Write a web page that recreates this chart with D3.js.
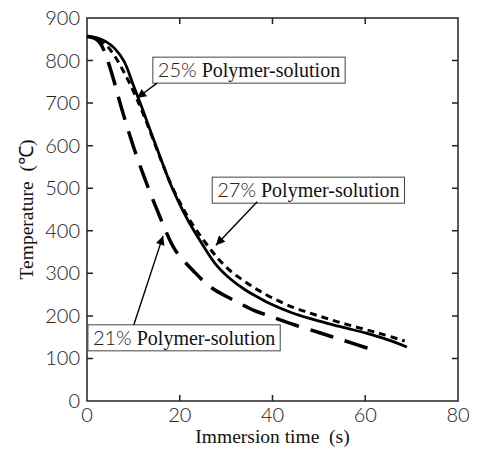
<!DOCTYPE html>
<html>
<head>
<meta charset="utf-8">
<script src="https://cdn.jsdelivr.net/npm/d3@7"></script>
<style>
  body { margin: 0; background: #fff; }
  .tick-label { font-family: "Lato", "Liberation Sans", Arial, sans-serif; font-weight: 300; font-size: 20px; fill: #222; }
  .title { font-family: "Liberation Serif", "Times New Roman", serif; font-size: 19.5px; fill: #111; }
</style>
</head>
<body>
<div id="chart"></div>
<script>
// Chart size
let width = 478;
let height = 452;
let margin = {top: 18, right: 20, bottom: 51, left: 87};

// Tick values
let x_ticks = [0, 20, 40, 60, 80];
let y_ticks = [0, 100, 200, 300, 400, 500, 600, 700, 800, 900];

// 25% Polymer-solution (solid)
let time_25 = [0, 2, 4, 6, 8, 10, 12, 14, 16, 18, 20, 22, 25, 28, 31, 34, 37, 40, 44, 48, 52, 56, 60, 64, 69];
let temp_25 = [857, 854, 845, 828, 798, 742, 685, 625, 567, 510, 462, 420, 366, 318, 286, 262, 243, 226, 208, 194, 182, 171, 160, 147, 127];

// 27% Polymer-solution (short dash)
let time_27 = [0, 2, 4, 6, 8, 10, 12, 14, 16, 18, 20, 22, 25, 28, 31, 34, 37, 40, 44, 48, 52, 56, 60, 64, 68.5];
let temp_27 = [857, 852, 838, 810, 772, 728, 678, 622, 565, 512, 467, 428, 380, 338, 305, 281, 260, 242, 222, 207, 193, 180, 168, 156, 141];

// 21% Polymer-solution (long dash)
let time_21 = [0, 2, 3, 4, 5, 6, 7, 8, 9, 10, 11, 12, 13, 14, 15, 16, 17, 18, 19, 20, 21.5, 23, 25, 27, 30, 33, 36, 40, 45, 50, 54, 58, 62.5];
let temp_21 = [857, 850, 838, 815, 782, 745, 705, 668, 632, 598, 566, 536, 507, 479, 452, 425, 399, 375, 355, 340, 322, 305, 283, 265, 246, 229, 213, 197, 178, 161, 147, 133, 117];

// Labels: box corner (t, T), arrow start and arrow tip in data units
let labels = [
  {pct: "25%", box: [14.2, 808], from: [15.1, 747], to: [10.8, 712]},
  {pct: "27%", box: [27.0, 526], from: [36.7, 468], to: [27.8, 366]},
  {pct: "21%", box: [0.2, 179], from: [10.1, 179], to: [16.4, 388]}
];

let w = width - margin.left - margin.right;
let h = height - margin.top - margin.bottom;

let svg = d3.select("#chart")
            .append("svg")
            .attr("width", width)
            .attr("height", height);

let defs = svg.append("defs");
defs.append("marker")
    .attr("id", "arrow")
    .attr("viewBox", "0 0 10 10")
    .attr("refX", 10)
    .attr("refY", 5)
    .attr("markerUnits", "userSpaceOnUse")
    .attr("markerWidth", 12)
    .attr("markerHeight", 9)
    .attr("orient", "auto")
    .append("path")
    .attr("d", "M0,0L10,5L0,10Z")
    .attr("fill", "#000");

let g = svg.append("g")
           .attr("transform", "translate(" + margin.left + "," + margin.top + ")");

let x = d3.scaleLinear().domain([0, 80]).range([0, w]);
let y = d3.scaleLinear().domain([0, 900]).range([h, 0]);

// frame
g.append("rect")
    .attr("width", w)
    .attr("height", h)
    .attr("fill", "none")
    .attr("stroke", "#222")
    .attr("stroke-width", 1.5);

// inward ticks on all sides
let inner_x = x_ticks.filter(d => d > 0 && d < 80);
let inner_y = y_ticks.filter(d => d > 0 && d < 900);

g.selectAll(".xt")
    .data(inner_x)
    .enter()
    .append("path")
    .attr("d", d => "M" + x(d) + "," + h + "v-6M" + x(d) + ",0v6")
    .attr("stroke", "#222")
    .attr("stroke-width", 1.5);

g.selectAll(".yt")
    .data(inner_y)
    .enter()
    .append("path")
    .attr("d", d => "M0," + y(d) + "h6M" + w + "," + y(d) + "h-6")
    .attr("stroke", "#222")
    .attr("stroke-width", 1.5);

// tick labels
g.selectAll(".xl")
    .data(x_ticks)
    .enter()
    .append("text")
    .attr("class", "tick-label")
    .attr("x", d => x(d))
    .attr("y", h + 21)
    .attr("text-anchor", "middle")
    .text(d => d);

g.selectAll(".yl")
    .data(y_ticks)
    .enter()
    .append("text")
    .attr("class", "tick-label")
    .attr("x", -7)
    .attr("y", d => y(d))
    .attr("dy", "0.35em")
    .attr("text-anchor", "end")
    .text(d => d);

// axis titles
svg.append("text")
    .attr("class", "title")
    .attr("x", margin.left + w / 2)
    .attr("y", 443)
    .attr("text-anchor", "middle")
    .style("white-space", "pre")
    .text("Immersion time  (s)");

svg.append("text")
    .attr("class", "title")
    .attr("transform", "translate(33," + (margin.top + h / 2) + ") rotate(-90)")
    .attr("text-anchor", "middle")
    .style("white-space", "pre")
    .text("Temperature  (℃)");

// curves
let line = d3.line()
             .x(d => x(d[0]))
             .y(d => y(d[1]))
             .curve(d3.curveCatmullRom.alpha(0.5));

let series = [
  {t: time_27, v: temp_27, dash: "7,5", sw: 3},
  {t: time_25, v: temp_25, dash: null, sw: 2.8},
  {t: time_21, v: temp_21, dash: "24,12", sw: 3.5}
];

series.forEach(function(s) {
  g.append("path")
      .datum(d3.zip(s.t, s.v))
      .attr("d", line)
      .attr("fill", "none")
      .attr("stroke", "#000")
      .attr("stroke-width", s.sw)
      .attr("stroke-dasharray", s.dash);
});

// annotations
labels.forEach(function(l) {
  let bx = x(l.box[0]);
  let by = y(l.box[1]);
  let box = g.append("rect")
      .attr("x", bx)
      .attr("y", by)
      .attr("height", 26)
      .attr("fill", "#fff")
      .attr("stroke", "#444")
      .attr("stroke-width", 1);
  let t = g.append("text")
      .attr("x", bx + 5)
      .attr("y", by + 20)
      .style("white-space", "pre");
  t.append("tspan")
      .attr("font-family", "Lato, Liberation Sans, Arial, sans-serif")
      .attr("font-weight", 300)
      .attr("font-size", 20)
      .attr("fill", "#222")
      .text(l.pct);
  t.append("tspan")
      .attr("font-family", "Liberation Serif, Times New Roman, serif")
      .attr("font-size", 20)
      .attr("fill", "#111")
      .text(" Polymer-solution");
  box.attr("width", t.node().getComputedTextLength() + 10);

  g.append("line")
      .attr("x1", x(l.from[0]))
      .attr("y1", y(l.from[1]))
      .attr("x2", x(l.to[0]))
      .attr("y2", y(l.to[1]))
      .attr("stroke", "#000")
      .attr("stroke-width", 1.4)
      .attr("marker-end", "url(#arrow)");
});
</script>
</body>
</html>
